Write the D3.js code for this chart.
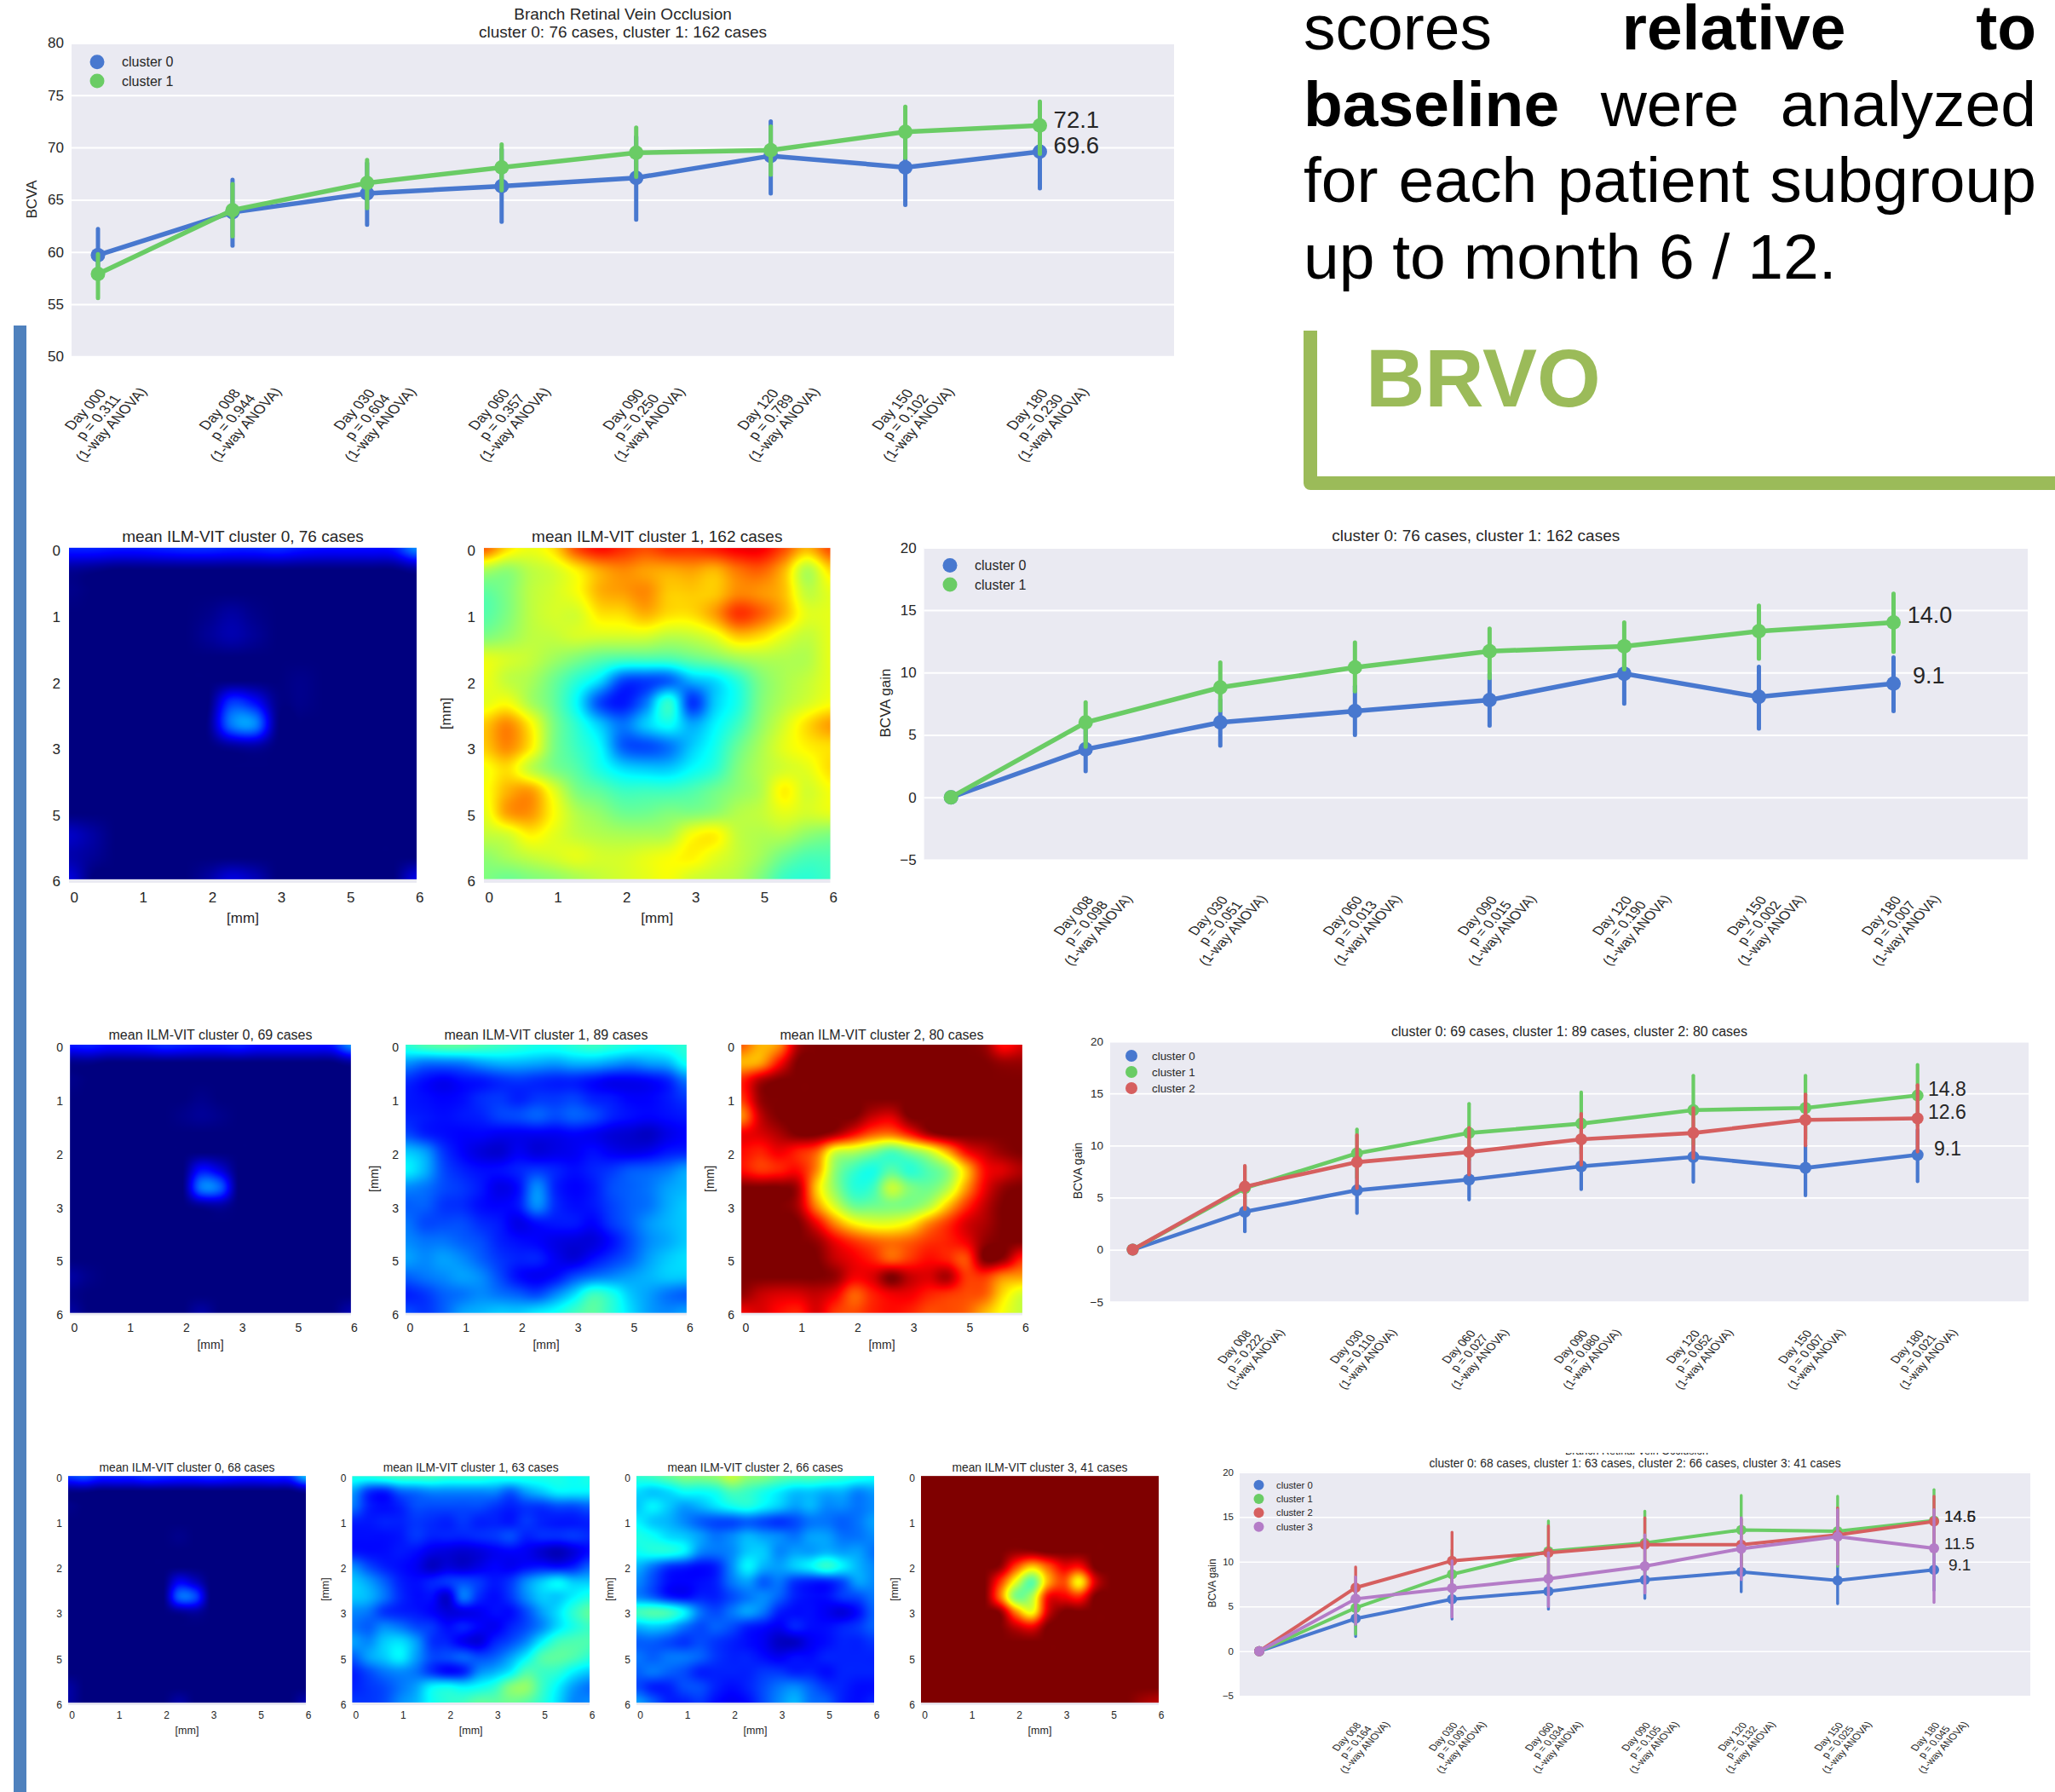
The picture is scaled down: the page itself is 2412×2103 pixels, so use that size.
<!DOCTYPE html>
<html>
<head>
<meta charset="utf-8">
<style>
  html, body { margin: 0; padding: 0; background: #fff; }
  svg { display: block; }
  text { font-family: "Liberation Sans", Arial, sans-serif; fill: #262626; }
</style>
</head>
<body>
<div id="chart"></div>
<script src="https://cdn.jsdelivr.net/npm/d3@7"></script>
<script>
// days and p values
const days = ['Day 000', 'Day 008', 'Day 030', 'Day 060', 'Day 090', 'Day 120', 'Day 150', 'Day 180']
const pBcva = ['0.311', '0.944', '0.604', '0.357', '0.250', '0.789', '0.102', '0.230']
const pGain2 = ['', '0.098', '0.051', '0.013', '0.015', '0.190', '0.002', '0.007']
const pGain3 = ['', '0.222', '0.110', '0.027', '0.080', '0.052', '0.007', '0.021']
const pGain4 = ['', '0.164', '0.097', '0.034', '0.105', '0.132', '0.025', '0.045']

// absolute BCVA, 2 clusters
const bcvaC0 = [59.7, 63.8, 65.6, 66.3, 67.1, 69.2, 68.1, 69.6]
const bcvaC0Lo = [57.4, 60.6, 62.6, 62.9, 63.1, 65.6, 64.5, 66.1]
const bcvaC0Hi = [62.2, 66.9, 68.5, 69.8, 71.0, 72.5, 71.8, 73.0]
const bcvaC1 = [57.9, 64.0, 66.6, 68.1, 69.5, 69.75, 71.5, 72.1]
const bcvaC1Lo = [55.6, 61.5, 64.2, 65.9, 67.2, 67.4, 69.0, 69.4]
const bcvaC1Hi = [59.8, 66.5, 68.8, 70.3, 71.9, 72.0, 73.9, 74.4]

// BCVA gain, 2 clusters
const gain2C0 = [0, 3.85, 6.0, 6.9, 7.8, 9.9, 8.05, 9.1]
const gain2C0Lo = [0, 2.1, 4.15, 5.0, 5.75, 7.5, 5.5, 6.9]
const gain2C0Hi = [0, 5.6, 7.8, 8.9, 9.9, 12.2, 10.45, 11.2]
const gain2C1 = [0, 6.0, 8.8, 10.4, 11.7, 12.1, 13.3, 14.0]
const gain2C1Lo = [0, 4.05, 6.95, 8.5, 9.55, 10.25, 11.1, 11.65]
const gain2C1Hi = [0, 7.6, 10.8, 12.4, 13.5, 14.0, 15.35, 16.3]

// BCVA gain, 3 clusters
const gain3C0 = [0, 3.65, 5.7, 6.73, 8.0, 8.9, 7.85, 9.1]
const gain3C0Lo = [0, 1.75, 3.5, 4.8, 5.8, 6.5, 5.2, 6.55]
const gain3C0Hi = [0, 5.5, 7.8, 8.7, 10.2, 11.1, 10.0, 11.5]
const gain3C1 = [0, 5.9, 9.24, 11.2, 12.1, 13.4, 13.6, 14.8]
const gain3C1Lo = [0, 3.9, 6.9, 8.6, 9.2, 10.1, 10.6, 11.9]
const gain3C1Hi = [0, 8.0, 11.55, 14.0, 15.1, 16.7, 16.7, 17.75]
const gain3C2 = [0, 6.05, 8.4, 9.37, 10.6, 11.2, 12.45, 12.6]
const gain3C2Lo = [0, 3.9, 5.9, 7.2, 8.15, 8.8, 10.0, 9.4]
const gain3C2Hi = [0, 8.05, 11.0, 11.7, 13.05, 13.6, 14.9, 15.8]

// BCVA gain, 4 clusters
const gain4C0 = [0, 3.64, 5.8, 6.7, 7.97, 8.86, 7.9, 9.1]
const gain4C0Lo = [0, 1.65, 3.6, 4.7, 5.9, 6.65, 5.3, 6.8]
const gain4C0Hi = [0, 5.6, 8.0, 8.7, 10.0, 11.0, 9.55, 11.3]
const gain4C1 = [0, 4.84, 8.6, 11.17, 12.1, 13.54, 13.4, 14.6]
const gain4C1Lo = [0, 1.9, 5.9, 7.8, 8.5, 9.7, 9.5, 10.8]
const gain4C1Hi = [0, 7.5, 11.3, 14.55, 15.65, 17.4, 17.3, 18.05]
const gain4C2 = [0, 7.1, 10.1, 11.0, 11.9, 11.9, 13.0, 14.5]
const gain4C2Lo = [0, 4.8, 7.0, 8.0, 8.9, 8.9, 9.9, 11.6]
const gain4C2Hi = [0, 9.4, 13.3, 14.0, 14.9, 14.7, 16.0, 17.3]
const gain4C3 = [0, 5.85, 7.05, 8.1, 9.5, 11.45, 12.8, 11.5]
const gain4C3Lo = [0, 3.0, 3.8, 5.0, 6.5, 8.0, 9.7, 5.45]
const gain4C3Hi = [0, 8.3, 10.1, 11.0, 13.0, 14.9, 15.8, 15.8]

const colors = ['#4878cf', '#6acc65', '#d65f5f', '#b47cc7']
const bcvaTicks = [50, 55, 60, 65, 70, 75, 80]
const gainTicks = [-5, 0, 5, 10, 15, 20]
const mmLabels = ['0', '1', '2', '3', '5', '6']

// mean ILM-VIT maps, read by eye on a 16x16 grid, 0-100 on the jet range
const mapA0 = [
  [14, 14, 13, 13, 14, 15, 15, 14, 14, 15, 13, 12, 12, 12, 13, 24],
  [2, 1, 0, 0, 0, 0, 0, 0, 0, 0, 0, 0, 0, 0, 0, 2],
  [1, 0, 0, 0, 0, 0, 0, 0, 0, 0, 0, 0, 0, 0, 0, 0],
  [0, 0, 0, 0, 0, 0, 1, 3, 1, 0, 0, 0, 0, 0, 0, 0],
  [0, 0, 0, 0, 0, 0, 2, 4, 2, 0, 0, 0, 0, 0, 0, 0],
  [0, 0, 0, 0, 0, 0, 0, 0, 0, 0, 0, 0, 0, 0, 0, 0],
  [0, 0, 0, 0, 0, 0, 0, 0, 0, 0, 1, 0, 0, 0, 0, 0],
  [0, 0, 0, 0, 0, 0, 0, 16, 12, 1, 1, 0, 0, 0, 0, 0],
  [0, 0, 0, 0, 0, 0, 1, 22, 24, 1, 0, 0, 0, 0, 0, 0],
  [0, 0, 0, 0, 0, 0, 0, 2, 3, 0, 0, 0, 0, 0, 0, 0],
  [0, 0, 0, 0, 0, 0, 0, 0, 0, 0, 0, 0, 0, 0, 0, 0],
  [0, 0, 0, 0, 0, 0, 0, 0, 0, 0, 0, 0, 0, 0, 0, 0],
  [0, 0, 0, 0, 0, 0, 0, 0, 0, 0, 0, 0, 0, 0, 0, 0],
  [6, 3, 0, 0, 0, 0, 0, 0, 0, 0, 0, 0, 0, 0, 0, 0],
  [4, 2, 0, 0, 0, 0, 0, 0, 0, 0, 0, 0, 0, 0, 0, 0],
  [8, 0, 0, 0, 0, 0, 3, 8, 5, 0, 0, 0, 0, 0, 0, 9]
]
const mapA1 = [
  [80, 68, 63, 68, 82, 88, 85, 82, 85, 85, 87, 90, 90, 82, 72, 82],
  [55, 52, 57, 60, 66, 73, 76, 74, 73, 74, 72, 78, 80, 72, 56, 68],
  [46, 50, 57, 60, 64, 72, 74, 76, 70, 70, 70, 76, 75, 71, 58, 62],
  [45, 50, 57, 60, 60, 67, 68, 72, 68, 68, 74, 84, 80, 72, 62, 62],
  [50, 53, 57, 58, 60, 60, 60, 60, 57, 58, 62, 70, 68, 62, 58, 62],
  [62, 60, 58, 54, 50, 46, 44, 44, 44, 47, 50, 54, 56, 56, 56, 62],
  [63, 58, 55, 48, 40, 32, 18, 17, 20, 28, 32, 40, 50, 55, 58, 62],
  [62, 64, 55, 47, 35, 18, 13, 22, 40, 16, 30, 38, 50, 56, 60, 64],
  [70, 76, 66, 50, 40, 30, 22, 30, 36, 27, 34, 42, 52, 60, 68, 74],
  [70, 76, 67, 50, 42, 35, 20, 18, 22, 30, 37, 47, 55, 62, 66, 68],
  [64, 68, 58, 50, 45, 38, 32, 30, 30, 35, 40, 50, 56, 60, 62, 68],
  [64, 72, 74, 62, 50, 46, 42, 42, 42, 44, 48, 52, 56, 66, 60, 64],
  [62, 74, 75, 65, 56, 52, 48, 48, 50, 50, 52, 56, 58, 62, 60, 62],
  [58, 60, 66, 62, 58, 56, 55, 55, 56, 64, 66, 58, 56, 56, 52, 50],
  [52, 55, 58, 60, 62, 60, 60, 62, 64, 66, 62, 58, 54, 48, 44, 44],
  [50, 48, 50, 52, 55, 58, 60, 62, 64, 60, 58, 56, 50, 42, 40, 42]
]
const mapB0 = [
  [13, 14, 12, 12, 13, 15, 14, 13, 13, 14, 12, 12, 12, 12, 13, 24],
  [1, 1, 0, 0, 0, 0, 0, 0, 0, 0, 0, 0, 0, 0, 0, 2],
  [1, 0, 0, 0, 0, 0, 0, 0, 0, 0, 0, 0, 0, 0, 0, 0],
  [0, 0, 0, 0, 0, 0, 0, 1, 0, 0, 0, 0, 0, 0, 0, 0],
  [0, 0, 0, 0, 0, 0, 1, 2, 1, 0, 0, 0, 0, 0, 0, 0],
  [0, 0, 0, 0, 0, 0, 0, 0, 0, 0, 0, 0, 0, 0, 0, 0],
  [0, 0, 0, 0, 0, 0, 0, 0, 0, 0, 0, 0, 0, 0, 0, 0],
  [0, 0, 0, 0, 0, 0, 0, 12, 8, 0, 0, 0, 0, 0, 0, 0],
  [0, 0, 0, 0, 0, 0, 0, 22, 20, 0, 0, 0, 0, 0, 0, 0],
  [0, 0, 0, 0, 0, 0, 0, 2, 3, 0, 0, 0, 0, 0, 0, 0],
  [0, 0, 0, 0, 0, 0, 0, 0, 0, 0, 0, 0, 0, 0, 0, 0],
  [0, 0, 0, 0, 0, 0, 0, 0, 0, 0, 0, 0, 0, 0, 0, 0],
  [0, 0, 0, 0, 0, 0, 0, 0, 0, 0, 0, 0, 0, 0, 0, 0],
  [3, 1, 0, 0, 0, 0, 0, 0, 0, 0, 0, 0, 0, 0, 0, 0],
  [1, 0, 0, 0, 0, 0, 0, 0, 0, 0, 0, 0, 0, 0, 0, 0],
  [3, 0, 0, 0, 0, 0, 0, 3, 0, 0, 0, 0, 0, 0, 0, 4]
]
const mapB1 = [
  [40, 44, 46, 46, 44, 42, 40, 38, 38, 40, 42, 40, 38, 36, 38, 40],
  [25, 22, 22, 23, 26, 28, 28, 27, 26, 28, 28, 26, 24, 26, 28, 36],
  [15, 12, 10, 12, 13, 15, 16, 15, 14, 14, 12, 10, 10, 11, 14, 22],
  [13, 12, 11, 12, 15, 16, 14, 16, 16, 17, 14, 13, 11, 11, 13, 16],
  [14, 13, 12, 13, 14, 17, 18, 20, 18, 20, 18, 14, 12, 11, 12, 13],
  [18, 14, 12, 11, 11, 10, 10, 10, 10, 11, 10, 8, 7, 6, 9, 11],
  [30, 26, 16, 11, 8, 7, 10, 8, 9, 10, 12, 10, 9, 10, 13, 14],
  [34, 28, 18, 14, 12, 12, 14, 16, 14, 12, 14, 16, 19, 20, 22, 26],
  [24, 22, 18, 16, 13, 9, 12, 24, 14, 11, 13, 18, 20, 22, 26, 28],
  [20, 20, 16, 15, 12, 11, 13, 24, 15, 12, 13, 17, 20, 22, 27, 30],
  [22, 18, 18, 18, 15, 13, 9, 12, 13, 13, 11, 16, 20, 25, 28, 30],
  [24, 22, 22, 20, 18, 14, 12, 11, 9, 8, 8, 12, 18, 24, 27, 30],
  [26, 24, 26, 24, 20, 16, 14, 14, 10, 8, 12, 16, 20, 26, 30, 32],
  [20, 22, 24, 26, 24, 18, 12, 10, 12, 18, 22, 24, 26, 28, 30, 30],
  [14, 16, 20, 22, 24, 22, 20, 18, 24, 32, 42, 38, 30, 26, 22, 20],
  [18, 16, 20, 26, 28, 30, 30, 33, 36, 42, 46, 40, 32, 26, 24, 26]
]
const mapB2 = [
  [80, 72, 76, 96, 100, 100, 100, 100, 100, 100, 100, 100, 100, 98, 88, 92],
  [72, 74, 88, 100, 100, 100, 100, 100, 100, 100, 100, 100, 100, 100, 98, 98],
  [86, 96, 100, 100, 100, 100, 100, 100, 100, 100, 100, 100, 100, 100, 100, 100],
  [84, 98, 100, 100, 100, 100, 100, 100, 100, 100, 100, 100, 100, 100, 100, 100],
  [76, 94, 100, 100, 100, 100, 100, 94, 92, 100, 100, 100, 100, 100, 100, 100],
  [90, 92, 96, 100, 100, 96, 88, 80, 78, 86, 96, 100, 100, 100, 100, 100],
  [88, 86, 90, 86, 80, 60, 56, 50, 44, 50, 58, 72, 88, 94, 98, 100],
  [88, 84, 86, 88, 76, 52, 42, 38, 45, 40, 45, 52, 70, 88, 92, 96],
  [100, 100, 100, 96, 70, 52, 40, 42, 58, 50, 48, 56, 74, 90, 98, 100],
  [100, 100, 100, 96, 76, 60, 48, 48, 50, 50, 56, 70, 84, 94, 100, 100],
  [100, 100, 100, 100, 90, 76, 66, 62, 62, 66, 76, 84, 92, 96, 100, 100],
  [100, 100, 100, 100, 98, 90, 84, 80, 78, 80, 84, 86, 90, 98, 100, 100],
  [100, 100, 100, 100, 100, 94, 90, 86, 80, 84, 88, 86, 82, 100, 98, 86],
  [100, 100, 100, 100, 100, 98, 90, 92, 100, 94, 92, 96, 84, 84, 76, 74],
  [98, 94, 92, 92, 94, 90, 80, 86, 90, 90, 86, 84, 82, 80, 68, 60],
  [90, 92, 88, 86, 92, 84, 82, 86, 88, 86, 82, 82, 80, 72, 64, 58]
]
const mapC0 = [
  [16, 18, 14, 14, 14, 16, 15, 14, 14, 15, 14, 13, 13, 14, 15, 28],
  [1, 1, 0, 0, 0, 0, 0, 0, 0, 0, 0, 0, 0, 0, 0, 2],
  [1, 0, 0, 0, 0, 0, 0, 0, 0, 0, 0, 0, 0, 0, 0, 0],
  [0, 0, 0, 0, 0, 0, 0, 0, 0, 0, 0, 0, 0, 0, 0, 0],
  [0, 0, 0, 0, 0, 0, 0, 1, 0, 0, 0, 0, 0, 0, 0, 0],
  [0, 0, 0, 0, 0, 0, 0, 0, 0, 0, 0, 0, 0, 0, 0, 0],
  [0, 0, 0, 0, 0, 0, 0, 0, 0, 0, 0, 0, 0, 0, 0, 0],
  [0, 0, 0, 0, 0, 0, 0, 10, 6, 0, 0, 0, 0, 0, 0, 0],
  [0, 0, 0, 0, 0, 0, 0, 20, 18, 0, 0, 0, 0, 0, 0, 0],
  [0, 0, 0, 0, 0, 0, 0, 2, 3, 0, 0, 0, 0, 0, 0, 0],
  [0, 0, 0, 0, 0, 0, 0, 0, 0, 0, 0, 0, 0, 0, 0, 0],
  [0, 0, 0, 0, 0, 0, 0, 0, 0, 0, 0, 0, 0, 0, 0, 0],
  [0, 0, 0, 0, 0, 0, 0, 0, 0, 0, 0, 0, 0, 0, 0, 0],
  [0, 0, 0, 0, 0, 0, 0, 0, 0, 0, 0, 0, 0, 0, 0, 0],
  [3, 0, 0, 0, 0, 0, 0, 0, 0, 0, 0, 0, 0, 0, 0, 0],
  [3, 0, 0, 0, 0, 0, 0, 3, 0, 0, 0, 0, 0, 0, 0, 4]
]
const mapC1 = [
  [38, 38, 40, 42, 42, 42, 40, 40, 40, 38, 38, 38, 38, 38, 36, 38],
  [26, 16, 14, 20, 22, 24, 24, 24, 24, 24, 20, 26, 30, 34, 34, 34],
  [22, 14, 12, 14, 18, 18, 18, 18, 18, 16, 14, 16, 16, 18, 18, 20],
  [14, 13, 14, 14, 16, 15, 14, 16, 14, 14, 13, 16, 14, 13, 13, 14],
  [12, 12, 12, 13, 16, 14, 14, 14, 15, 16, 18, 14, 15, 15, 16, 15],
  [13, 12, 12, 13, 12, 9, 8, 7, 8, 10, 11, 10, 7, 5, 8, 12],
  [24, 18, 14, 12, 10, 6, 8, 7, 9, 11, 10, 12, 13, 12, 14, 20],
  [30, 26, 20, 14, 12, 14, 16, 18, 16, 13, 16, 24, 30, 34, 30, 30],
  [30, 28, 22, 15, 12, 12, 7, 22, 15, 12, 16, 24, 30, 30, 34, 38],
  [24, 22, 16, 14, 13, 11, 8, 9, 10, 12, 12, 18, 26, 32, 40, 46],
  [22, 20, 24, 22, 18, 16, 12, 14, 11, 10, 14, 18, 24, 32, 38, 42],
  [26, 24, 30, 32, 26, 16, 14, 10, 8, 14, 18, 24, 34, 42, 44, 44],
  [20, 26, 30, 34, 26, 18, 18, 20, 18, 20, 26, 34, 44, 46, 44, 40],
  [14, 18, 22, 24, 22, 16, 12, 14, 24, 28, 34, 44, 42, 40, 34, 30],
  [14, 16, 18, 22, 26, 34, 36, 34, 36, 40, 50, 52, 42, 34, 26, 22],
  [16, 16, 18, 24, 28, 36, 40, 42, 46, 46, 48, 46, 40, 32, 24, 24]
]
const mapC2 = [
  [40, 42, 46, 50, 50, 52, 58, 52, 50, 46, 44, 44, 42, 40, 38, 36],
  [32, 30, 32, 36, 36, 38, 44, 42, 38, 34, 30, 30, 28, 28, 24, 26],
  [30, 34, 30, 26, 28, 32, 36, 38, 34, 30, 26, 28, 24, 24, 22, 24],
  [34, 30, 28, 24, 20, 18, 18, 20, 18, 16, 18, 22, 22, 20, 22, 26],
  [38, 36, 32, 30, 26, 22, 24, 28, 26, 24, 22, 26, 26, 22, 22, 24],
  [36, 38, 38, 34, 24, 22, 24, 30, 30, 24, 26, 26, 28, 26, 26, 22],
  [28, 22, 16, 14, 12, 14, 24, 34, 28, 26, 30, 34, 40, 34, 28, 24],
  [24, 18, 12, 11, 12, 14, 22, 26, 20, 22, 16, 14, 14, 18, 26, 24],
  [24, 20, 14, 12, 14, 14, 18, 22, 24, 20, 14, 12, 12, 16, 18, 22],
  [42, 44, 42, 34, 22, 18, 22, 26, 22, 14, 12, 12, 10, 8, 12, 20],
  [28, 30, 28, 22, 18, 20, 18, 14, 12, 10, 14, 12, 12, 14, 16, 20],
  [20, 20, 18, 16, 18, 16, 14, 12, 10, 6, 6, 10, 12, 14, 14, 16],
  [22, 20, 22, 22, 20, 16, 14, 14, 12, 10, 12, 12, 14, 14, 14, 14],
  [20, 22, 20, 18, 14, 14, 14, 14, 16, 16, 14, 14, 12, 14, 14, 14],
  [18, 14, 14, 18, 18, 14, 12, 14, 18, 22, 24, 20, 16, 14, 12, 12],
  [26, 20, 14, 14, 16, 12, 10, 12, 18, 24, 28, 22, 20, 14, 12, 14]
]
const mapC3 = [
  [100, 100, 100, 100, 100, 100, 100, 100, 100, 100, 100, 100, 100, 100, 100, 100],
  [100, 100, 100, 100, 100, 100, 100, 100, 100, 100, 100, 100, 100, 100, 100, 100],
  [100, 100, 100, 100, 100, 100, 100, 100, 100, 100, 100, 100, 100, 100, 100, 100],
  [100, 100, 100, 100, 100, 100, 100, 100, 100, 100, 100, 100, 100, 100, 100, 100],
  [100, 100, 100, 100, 100, 100, 100, 100, 100, 100, 100, 100, 100, 100, 100, 100],
  [100, 100, 100, 100, 100, 100, 98, 98, 100, 100, 100, 100, 100, 100, 100, 100],
  [100, 100, 100, 100, 100, 98, 82, 70, 80, 90, 88, 100, 100, 100, 100, 100],
  [100, 100, 100, 100, 100, 84, 62, 46, 72, 82, 66, 92, 100, 100, 100, 100],
  [100, 100, 100, 100, 100, 78, 50, 56, 88, 90, 86, 100, 100, 100, 100, 100],
  [100, 100, 100, 100, 100, 98, 76, 64, 92, 100, 100, 100, 100, 100, 100, 100],
  [100, 100, 100, 100, 100, 100, 94, 90, 100, 100, 100, 100, 100, 100, 100, 100],
  [100, 100, 100, 100, 100, 100, 100, 100, 100, 100, 100, 100, 100, 100, 100, 100],
  [100, 100, 100, 100, 100, 100, 100, 100, 100, 100, 100, 100, 100, 100, 100, 100],
  [100, 100, 100, 100, 100, 100, 100, 100, 100, 100, 100, 100, 100, 100, 100, 100],
  [100, 100, 100, 100, 100, 100, 100, 100, 100, 100, 100, 100, 100, 100, 100, 100],
  [100, 100, 100, 100, 100, 100, 100, 100, 100, 100, 100, 100, 100, 100, 97, 95]
]

const width = 2412
const height = 2103

const svg = d3
  .select('#chart')
  .append('svg')
  .attr('width', width)
  .attr('height', height)

// jet colormap
const jet = d3
  .scaleLinear()
  .domain([0, 11, 35, 50, 65, 89, 100])
  .range(['#00007f', '#0000ff', '#00ffff', '#7fff7f', '#ffff00', '#ff0000', '#7f0000'])
  .clamp(true)

function catmull(a, b, c, d, t) {
  return b + 0.5 * t * (c - a + t * (2 * a - 5 * b + 4 * c - d + t * (3 * (b - c) + d - a)))
}

function mapImage(grid, w, h) {
  const n = grid.length
  const canvas = document.createElement('canvas')
  canvas.width = w
  canvas.height = h
  const ctx = canvas.getContext('2d')
  const img = ctx.createImageData(w, h)
  const gx = d3.scaleLinear().domain([0, w - 1]).range([0, n - 1])
  const gy = d3.scaleLinear().domain([0, h - 1]).range([0, n - 1])
  const at = (r, c) => grid[Math.max(0, Math.min(n - 1, r))][Math.max(0, Math.min(n - 1, c))]
  for (let py = 0; py < h; py++) {
    const fy = gy(py)
    const r = Math.min(n - 2, Math.floor(fy))
    for (let px = 0; px < w; px++) {
      const fx = gx(px)
      const c = Math.min(n - 2, Math.floor(fx))
      const rows = [-1, 0, 1, 2].map(k =>
        catmull(at(r + k, c - 1), at(r + k, c), at(r + k, c + 1), at(r + k, c + 2), fx - c)
      )
      const col = d3.rgb(jet(catmull(rows[0], rows[1], rows[2], rows[3], fy - r)))
      const i = (py * w + px) * 4
      img.data[i] = col.r
      img.data[i + 1] = col.g
      img.data[i + 2] = col.b
      img.data[i + 3] = 255
    }
  }
  ctx.putImageData(img, 0, 0)
  return canvas.toDataURL()
}

function heatmap(m, row) {
  const g = svg.append('g')
  const w = m.right - m.left
  const h = row.bottom - row.top

  g.append('rect')
    .attr('x', m.left)
    .attr('y', row.top)
    .attr('width', w)
    .attr('height', row.stripBottom - row.top)
    .attr('fill', '#eaeaf2')

  g.append('image')
    .attr('x', m.left)
    .attr('y', row.top)
    .attr('width', w)
    .attr('height', h)
    .attr('href', mapImage(m.grid, Math.round(w), Math.round(h)))

  const xScale = d3.scalePoint().domain(mmLabels).range([m.left + row.tickX[0], m.right + row.tickX[1]])
  const yScale = d3.scalePoint().domain(mmLabels).range([row.top + row.tickY[0], row.bottom + row.tickY[1]])

  const xAxis = g.append('g')
    .attr('transform', 'translate(0,' + row.tickTextY + ')')
    .call(d3.axisBottom(xScale).tickSize(0))
  xAxis.select('.domain').remove()
  xAxis.selectAll('text')
    .attr('y', 0)
    .attr('dy', '.35em')
    .attr('font-size', row.tickFont)
    .attr('font-family', null)

  const yAxis = g.append('g')
    .attr('transform', 'translate(' + (m.left - row.tickGap) + ',0)')
    .call(d3.axisLeft(yScale).tickSize(0).tickPadding(0))
  yAxis.select('.domain').remove()
  yAxis.selectAll('text')
    .attr('font-size', row.tickFont)
    .attr('dy', '.35em')

  g.append('text')
    .attr('x', (m.left + m.right) / 2)
    .attr('y', row.titleY)
    .attr('dy', '.35em')
    .attr('text-anchor', 'middle')
    .attr('font-size', row.titleFont)
    .text(m.title)

  g.append('text')
    .attr('x', (m.left + m.right) / 2)
    .attr('y', row.labelY)
    .attr('dy', '.35em')
    .attr('text-anchor', 'middle')
    .attr('font-size', row.labelFont)
    .text('[mm]')

  if (m.yLabelX) {
    g.append('text')
      .attr('transform', 'translate(' + m.yLabelX + ',' + (row.top + row.bottom) / 2 + ') rotate(-90)')
      .attr('dy', '.35em')
      .attr('text-anchor', 'middle')
      .attr('font-size', row.labelFont)
      .text('[mm]')
  }
}

function lineChart(c) {
  const g = svg.append('g')
  const x = d3.scalePoint().domain(days).range([c.x0, c.x1])
  const y = d3.scaleLinear().domain(d3.extent(c.ticks)).range([c.bottom, c.top])

  g.append('rect')
    .attr('x', c.left)
    .attr('y', c.top)
    .attr('width', c.right - c.left)
    .attr('height', c.bottom - c.top)
    .attr('fill', '#eaeaf2')

  const yAxis = g.append('g')
    .attr('transform', 'translate(' + c.left + ',0)')
    .call(d3.axisLeft(y).tickValues(c.ticks).tickSize(-(c.right - c.left)).tickPadding(c.tickPad))
  yAxis.select('.domain').remove()
  yAxis.selectAll('line').attr('stroke', '#fff').attr('stroke-width', c.gridWidth)
  yAxis.selectAll('text')
    .attr('font-size', c.tickFont)
    .text(d => (d < 0 ? '\u2212' : '') + Math.abs(d))

  g.append('text')
    .attr('transform', 'translate(' + c.yLabelX + ',' + c.yLabelY + ') rotate(-90)')
    .attr('dy', '.35em')
    .attr('text-anchor', 'middle')
    .attr('font-size', c.yFont)
    .text(c.yLabel)

  c.titles.forEach((t, i) => {
    g.append('text')
      .attr('x', (c.left + c.right) / 2)
      .attr('y', c.titleYs[i])
      .attr('dy', '.35em')
      .attr('text-anchor', 'middle')
      .attr('font-size', c.titleFont)
      .text(t)
  })

  // tilted three line tick labels
  const xTicks = g.append('g')
    .selectAll('text')
    .data(days)
    .enter()
    .filter((d, i) => c.p[i] !== '')
    .append('text')
    .attr('transform', d => 'translate(' + x(d) + ',' + (c.bottom + c.xLabelDrop) + ') scale(1,0.8) rotate(-54)')
    .attr('text-anchor', 'middle')
    .attr('font-size', c.xFont)

  xTicks.each(function(d) {
    const i = days.indexOf(d)
    const lines = [d, 'p = ' + c.p[i], '(1-way ANOVA)']
    d3.select(this)
      .selectAll('tspan')
      .data(lines)
      .enter()
      .append('tspan')
      .attr('x', 0)
      .attr('y', (l, k) => (k - 1) * 1.02 * c.xFont + 0.35 * c.xFont)
      .text(l => l)
  })

  const line = d3
    .line()
    .x((d, i) => x(days[i]))
    .y(d => y(d))

  c.series.forEach((s, k) => {
    const sg = g.append('g')

    sg.selectAll('.ci')
      .data(days)
      .enter()
      .append('line')
      .attr('class', 'ci')
      .attr('x1', d => x(d))
      .attr('x2', d => x(d))
      .attr('y1', (d, i) => y(s.lo[i]))
      .attr('y2', (d, i) => y(s.hi[i]))
      .attr('stroke', colors[k])
      .attr('stroke-width', c.ciWidth)
      .attr('stroke-linecap', 'round')

    sg.append('path')
      .datum(s.mean)
      .attr('d', line)
      .attr('fill', 'none')
      .attr('stroke', colors[k])
      .attr('stroke-width', c.lineWidth)

    sg.selectAll('circle')
      .data(s.mean)
      .enter()
      .append('circle')
      .attr('cx', (d, i) => x(days[i]))
      .attr('cy', d => y(d))
      .attr('r', c.r)
      .attr('fill', colors[k])

    // legend
    g.append('circle')
      .attr('cx', c.legendX)
      .attr('cy', c.legendYs[k])
      .attr('r', c.r)
      .attr('fill', colors[k])

    g.append('text')
      .attr('x', c.legendTextX)
      .attr('y', c.legendYs[k])
      .attr('dy', '.35em')
      .attr('font-size', c.legendFont)
      .text('cluster ' + k)
  })

  // final values next to the last point
  c.series.forEach((s, k) => {
    g.append('text')
      .attr('x', c.valueXs[k])
      .attr('y', c.valueYs[k])
      .attr('dy', '.35em')
      .attr('font-size', c.valueFont)
      .text(d3.format('.1f')(s.mean[s.mean.length - 1]))
  })
}

// sidebar and the slide text
svg.append('rect')
  .attr('x', 16)
  .attr('y', 382)
  .attr('width', 15)
  .attr('height', height - 382)
  .attr('fill', '#4f81bd')

const slideLines = [
  { y: 58, justify: true, words: [['scores', false], ['relative', true], ['to', true]] },
  { y: 147.5, justify: true, words: [['baseline', true], ['were', false], ['analyzed', false]] },
  { y: 237, justify: true, words: [['for', false], ['each', false], ['patient', false], ['subgroup', false]] },
  { y: 326.5, justify: false, words: [['up', false], ['to', false], ['month', false], ['6', false], ['/', false], ['12.', false]] }
]
const slideLeft = 1530
const slideRight = 2390
const slideFont = 75

slideLines.forEach(l => {
  const nodes = l.words.map(w =>
    svg.append('text')
      .attr('y', l.y)
      .attr('font-size', slideFont)
      .attr('font-weight', w[1] ? 'bold' : 'normal')
      .style('fill', '#000')
      .text(w[0])
  )
  const lens = nodes.map(n => n.node().getComputedTextLength())
  const gap = l.justify
    ? (slideRight - slideLeft - d3.sum(lens)) / (nodes.length - 1)
    : slideFont * 0.278
  let pos = slideLeft
  nodes.forEach((n, i) => {
    n.attr('x', pos)
    pos += lens[i] + gap
  })
})

svg.append('path')
  .attr('d', 'M1538,388 L1538,567 L' + width + ',567')
  .attr('fill', 'none')
  .attr('stroke', '#9bbb59')
  .attr('stroke-width', 16)
  .attr('stroke-linejoin', 'round')

svg.append('text')
  .attr('x', 1603)
  .attr('y', 476.5)
  .attr('font-size', 96)
  .attr('font-weight', 'bold')
  .style('fill', '#9bbb59')
  .text('BRVO')

// heatmap rows
const row1 = { top: 642.7, bottom: 1032, stripBottom: 1036, tickX: [5.7, 3.3], tickY: [3.3, 2], tickTextY: 1053, tickGap: 10, tickFont: 17, titleY: 629, titleFont: 19, labelY: 1077, labelFont: 17 }
const row2 = { top: 1226, bottom: 1540.7, stripBottom: 1543.5, tickX: [5, 3.5], tickY: [3, 2], tickTextY: 1558, tickGap: 8, tickFont: 14, titleY: 1214.7, titleFont: 16, labelY: 1578, labelFont: 14 }
const row3 = { top: 1732, bottom: 1998.3, stripBottom: 2001, tickX: [4, 2.6], tickY: [2, 1.7], tickTextY: 2013, tickGap: 7, tickFont: 12, titleY: 1722, titleFont: 13.8, labelY: 2030.7, labelFont: 12.5 }

heatmap({ left: 81, right: 489, grid: mapA0, title: 'mean ILM-VIT cluster 0, 76 cases' }, row1)
heatmap({ left: 568, right: 974.5, grid: mapA1, title: 'mean ILM-VIT cluster 1, 162 cases', yLabelX: 523 }, row1)
heatmap({ left: 82, right: 412, grid: mapB0, title: 'mean ILM-VIT cluster 0, 69 cases' }, row2)
heatmap({ left: 476, right: 806, grid: mapB1, title: 'mean ILM-VIT cluster 1, 89 cases', yLabelX: 439.4 }, row2)
heatmap({ left: 870, right: 1200, grid: mapB2, title: 'mean ILM-VIT cluster 2, 80 cases', yLabelX: 833.4 }, row2)
heatmap({ left: 80, right: 359, grid: mapC0, title: 'mean ILM-VIT cluster 0, 68 cases' }, row3)
heatmap({ left: 413.4, right: 692, grid: mapC1, title: 'mean ILM-VIT cluster 1, 63 cases', yLabelX: 382 }, row3)
heatmap({ left: 747, right: 1026, grid: mapC2, title: 'mean ILM-VIT cluster 2, 66 cases', yLabelX: 716 }, row3)
heatmap({ left: 1081, right: 1360, grid: mapC3, title: 'mean ILM-VIT cluster 3, 41 cases', yLabelX: 1050 }, row3)

// line charts
lineChart({
  left: 84, right: 1378, top: 50.5, bottom: 418.3, x0: 115, x1: 1220.5,
  ticks: bcvaTicks, yLabel: 'BCVA', yLabelX: 37.5, yLabelY: 234, yFont: 17,
  titles: ['Branch Retinal Vein Occlusion', 'cluster 0: 76 cases, cluster 1: 162 cases'], titleYs: [16.5, 37], titleFont: 19,
  tickFont: 17, tickPad: 9, gridWidth: 2, p: pBcva, xLabelDrop: 71, xFont: 18.4,
  lineWidth: 5.5, ciWidth: 5, r: 8.5,
  legendX: 114, legendYs: [72.7, 95], legendTextX: 143, legendFont: 16,
  valueXs: [1236.6, 1236.6], valueYs: [170, 140], valueFont: 27.5,
  series: [
    { mean: bcvaC0, lo: bcvaC0Lo, hi: bcvaC0Hi },
    { mean: bcvaC1, lo: bcvaC1Lo, hi: bcvaC1Hi }
  ]
})

lineChart({
  left: 1084.6, right: 2380, top: 642.6, bottom: 1009, x0: 1116.2, x1: 2222.5,
  ticks: gainTicks, yLabel: 'BCVA gain', yLabelX: 1039, yLabelY: 825, yFont: 17,
  titles: ['cluster 0: 76 cases, cluster 1: 162 cases'], titleYs: [628], titleFont: 19,
  tickFont: 17, tickPad: 9, gridWidth: 2, p: pGain2, xLabelDrop: 74, xFont: 17.6,
  lineWidth: 5.5, ciWidth: 5, r: 8.5,
  legendX: 1115, legendYs: [663.6, 686], legendTextX: 1144, legendFont: 16,
  valueXs: [2245, 2238.7], valueYs: [793, 721.4], valueFont: 27,
  series: [
    { mean: gain2C0, lo: gain2C0Lo, hi: gain2C0Hi },
    { mean: gain2C1, lo: gain2C1Lo, hi: gain2C1Hi }
  ]
})

lineChart({
  left: 1303, right: 2381, top: 1222, bottom: 1527.7, x0: 1329.5, x1: 2250.7,
  ticks: gainTicks, yLabel: 'BCVA gain', yLabelX: 1265.4, yLabelY: 1374, yFont: 14,
  titles: ['cluster 0: 69 cases, cluster 1: 89 cases, cluster 2: 80 cases'], titleYs: [1210], titleFont: 16,
  tickFont: 13.5, tickPad: 8, gridWidth: 1.8, p: pGain3, xLabelDrop: 60, xFont: 15,
  lineWidth: 4.6, ciWidth: 4.2, r: 7,
  legendX: 1328, legendYs: [1239, 1258, 1277], legendTextX: 1352, legendFont: 13.4,
  valueXs: [2270, 2263, 2263], valueYs: [1348, 1277.7, 1305], valueFont: 23,
  series: [
    { mean: gain3C0, lo: gain3C0Lo, hi: gain3C0Hi },
    { mean: gain3C1, lo: gain3C1Lo, hi: gain3C1Hi },
    { mean: gain3C2, lo: gain3C2Lo, hi: gain3C2Hi }
  ]
})

// only the bottom pixels of this title survive in the source image
svg.append('clipPath')
  .attr('id', 'cut')
  .append('rect')
  .attr('x', 1800)
  .attr('y', 1705)
  .attr('width', 260)
  .attr('height', 2.5)

svg.append('text')
  .attr('x', 1921)
  .attr('y', 1707)
  .attr('text-anchor', 'middle')
  .attr('font-size', 12.5)
  .attr('clip-path', 'url(#cut)')
  .text('Branch Retinal Vein Occlusion')

lineChart({
  left: 1455, right: 2383, top: 1727.7, bottom: 1990.3, x0: 1478, x1: 2270,
  ticks: gainTicks, yLabel: 'BCVA gain', yLabelX: 1423, yLabelY: 1858, yFont: 12,
  titles: ['cluster 0: 68 cases, cluster 1: 63 cases, cluster 2: 66 cases, cluster 3: 41 cases'], titleYs: [1717], titleFont: 13.8,
  tickFont: 11.5, tickPad: 7, gridWidth: 1.6, p: pGain4, xLabelDrop: 54, xFont: 12.9,
  lineWidth: 4, ciWidth: 3.4, r: 6,
  legendX: 1477.5, legendYs: [1742.7, 1759, 1775.3, 1791.7], legendTextX: 1498, legendFont: 11.3,
  valueXs: [2287, 2282, 2282, 2282], valueYs: [1836.7, 1779, 1779, 1811.7], valueFont: 19,
  series: [
    { mean: gain4C0, lo: gain4C0Lo, hi: gain4C0Hi },
    { mean: gain4C1, lo: gain4C1Lo, hi: gain4C1Hi },
    { mean: gain4C2, lo: gain4C2Lo, hi: gain4C2Hi },
    { mean: gain4C3, lo: gain4C3Lo, hi: gain4C3Hi }
  ]
})
</script>
</body>
</html>
